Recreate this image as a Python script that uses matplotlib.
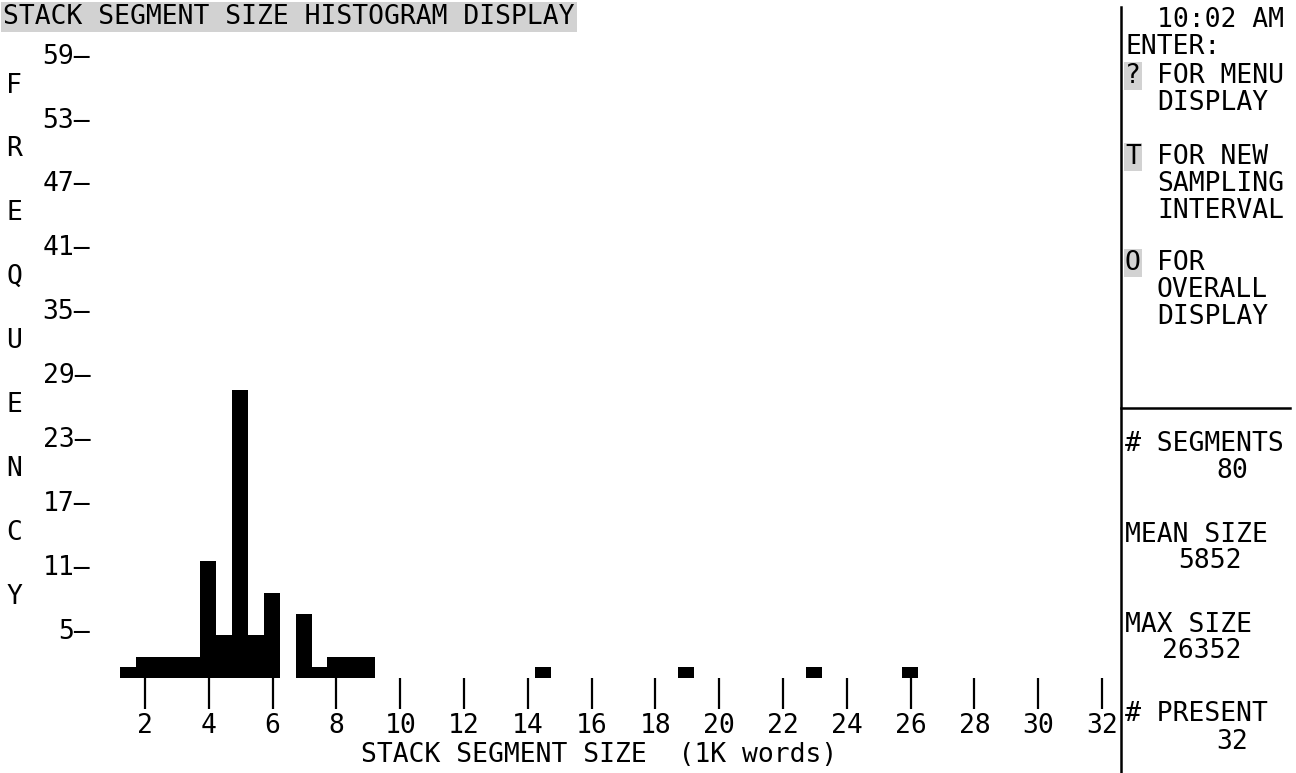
import matplotlib
matplotlib.use("Agg")
import matplotlib.pyplot as plt
from matplotlib import transforms
from matplotlib.lines import Line2D

W, H = 1296, 773
FS = 19
plt.rcParams['font.family'] = ['DejaVu Sans Mono']

# histogram bins (left edge in K words, 0.5K wide) and segment counts
bin_left = [1.22, 1.72, 2.22, 2.72, 3.22, 3.72, 4.22, 4.72, 5.22, 5.72,
            6.72, 7.22, 7.72, 8.22, 8.72, 14.22, 18.72, 22.72, 25.72]
counts = [1, 2, 2, 2, 2, 11, 4, 27, 4, 8,
          6, 1, 2, 2, 2, 1, 1, 1, 1]
bin_width = 0.5

x_ticks = [2, 4, 6, 8, 10, 12, 14, 16, 18, 20, 22, 24, 26, 28, 30, 32]
y_ticks = [5, 11, 17, 23, 29, 35, 41, 47, 53, 59]
y_label = "FREQUENCY"
x_label = "STACK SEGMENT SIZE  (1K words)"
title = "STACK SEGMENT SIZE HISTOGRAM DISPLAY"

# right hand side panel: (text, text column, highlighted key, y pixel from top)
menu_lines = [
    ("10:02 AM", 2, None, 20),
    ("ENTER:", 0, None, 47),
    ("FOR MENU", 2, "?", 76),
    ("DISPLAY", 2, None, 103),
    ("FOR NEW", 2, "T", 157),
    ("SAMPLING", 2, None, 184),
    ("INTERVAL", 2, None, 211),
    ("FOR", 2, "O", 263),
    ("OVERALL", 2, None, 290),
    ("DISPLAY", 2, None, 317),
]
stat_names = ["# SEGMENTS", "MEAN SIZE", "MAX SIZE", "# PRESENT"]
stat_values = ["80", "5852", "26352", "32"]
stat_name_y = [444, 535, 625, 714]
stat_value_y = [471, 561, 651, 742]
stat_value_x = [1232, 1210, 1202, 1232]


def fx(x):
    return x / W


def fy(y):
    return 1 - y / H


fig = plt.figure(figsize=(W / 100, H / 100), dpi=100)

# axes laid out so that 1K ~ 31.9 px and 1 count ~ 10.65 px
ax = fig.add_axes([fx(81.2), fy(678), (1118 - 81.2) / W, 639 / H])
ax.set_xlim(0, 32.5)
ax.set_ylim(0, 60)
ax.bar(bin_left, counts, width=bin_width, align='edge', color='black', linewidth=0)

for s in ax.spines.values():
    s.set_visible(False)

ax.set_xticks(x_ticks, [str(v) for v in x_ticks])
ax.tick_params(axis='x', direction='out', length=22.5, width=1.6, pad=3,
               labelsize=FS, color='black')
ax.set_yticks(y_ticks, [f"{v}\u2014" for v in y_ticks])
ax.tick_params(axis='y', length=0, pad=-6.5, labelsize=FS)
shift = transforms.ScaledTranslation(0, -4 / 100, fig.dpi_scale_trans)
for lab in ax.get_yticklabels():
    lab.set_transform(lab.get_transform() + shift)

ax.set_xlabel(x_label, fontsize=FS)
ax.xaxis.set_label_coords(0.5, -77 / 639)
ax.xaxis.label.set_va('center')

# stacked FREQUENCY letters, midway between the y tick labels
letter_tr = transforms.blended_transform_factory(fig.transFigure, ax.transData) + shift
for i, ch in enumerate(y_label):
    yv = (y_ticks[-1 - i] + y_ticks[-2 - i]) / 2
    fig.text(fx(14), yv, ch, transform=letter_tr, ha='center', va='center', fontsize=FS)

fig.text(fx(3), fy(17), title, ha='left', va='center', fontsize=FS,
         bbox=dict(boxstyle='square,pad=0.08', fc='#d2d2d2', ec='none'))

# panel separators
fig.add_artist(Line2D([fx(1121), fx(1121)], [fy(7), 0], color='black', lw=1.8))
fig.add_artist(Line2D([fx(1121), fx(1290)], [fy(408), fy(408)], color='black', lw=1.8))

col0 = 1125
pitch = 15.97  # mono character cell width in px
for txt, col, key, y in menu_lines:
    fig.text(fx(col0 + col * pitch), fy(y), txt, ha='left', va='center', fontsize=FS)
    if key:
        fig.text(fx(col0), fy(y), key, ha='left', va='center', fontsize=FS,
                 bbox=dict(boxstyle='square,pad=0.05', fc='#d2d2d2', ec='none'))

for name, ny, val, vy, vx in zip(stat_names, stat_name_y, stat_values, stat_value_y, stat_value_x):
    fig.text(fx(col0), fy(ny), name, ha='left', va='center', fontsize=FS)
    fig.text(fx(vx), fy(vy), val, ha='center', va='center', fontsize=FS)

fig.savefig("out.png", dpi=100)
